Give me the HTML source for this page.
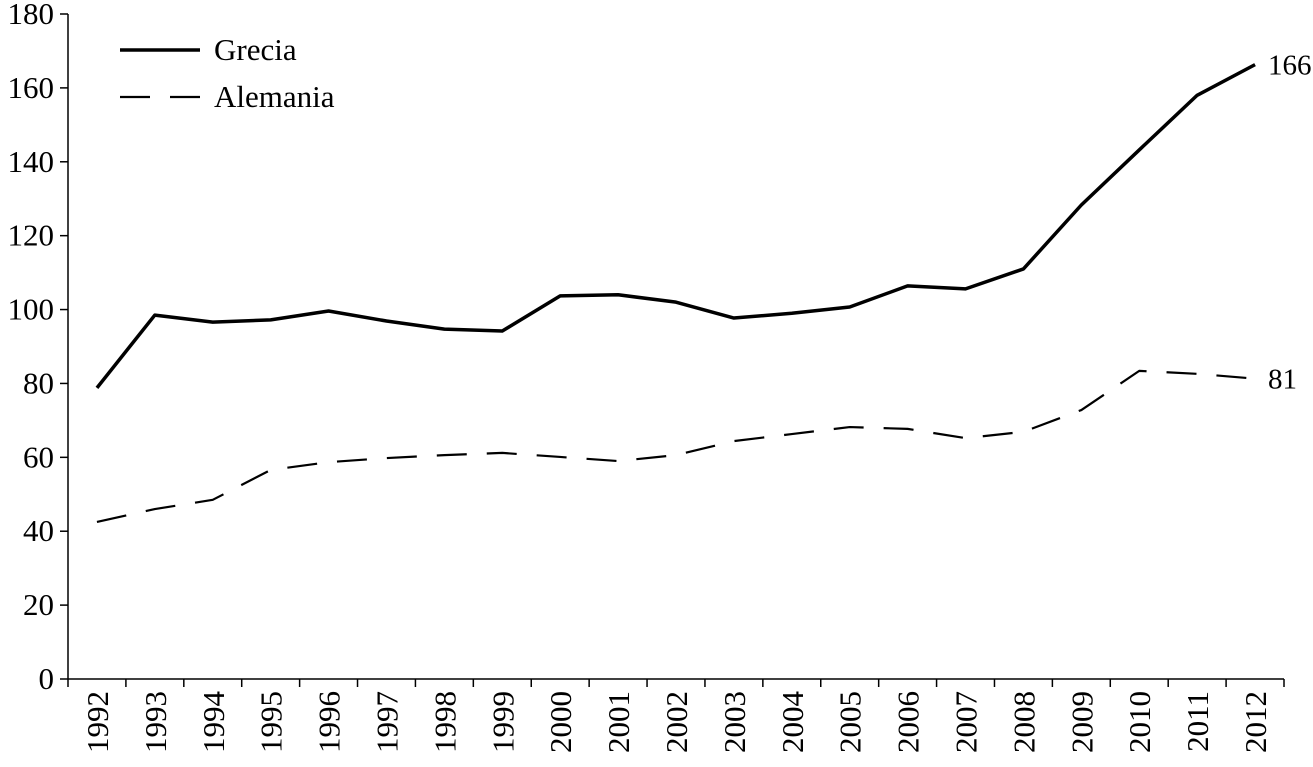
<!DOCTYPE html>
<html><head><meta charset="utf-8"><style>
html,body{margin:0;padding:0;background:#fff;}
svg{display:block;font-family:"Liberation Serif",serif;}
</style></head><body>
<svg id="chart" width="1313" height="767" viewBox="0 0 1313 767" xmlns="http://www.w3.org/2000/svg">
<g id="axes"></g><g id="series"></g>
<g>
<line x1="120" y1="50" x2="200" y2="50" stroke="#000" stroke-width="3.5"/>
<text x="214" y="60" font-size="31">Grecia</text>
<line x1="120" y1="97" x2="200" y2="97" stroke="#000" stroke-width="2.2" stroke-dasharray="30,20"/>
<text x="214" y="107" font-size="31">Alemania</text>
</g>
</svg>
<script>
const years=["1992","1993","1994","1995","1996","1997","1998","1999","2000","2001","2002","2003","2004","2005","2006","2007","2008","2009","2010","2011","2012"];
const grecia=[78.8,98.5,96.6,97.2,99.6,96.9,94.7,94.2,103.7,104,102,97.7,99,100.7,106.4,105.6,111,128.3,143.2,158,166.3];
const alemania=[42.5,46,48.5,56.6,58.7,59.8,60.6,61.2,60.1,59,60.6,64.4,66.3,68.2,67.7,65.2,66.9,72.8,83.4,82.6,81.3];
const yTicks=[0,20,40,60,80,100,120,140,160,180];
const endLabels=["166","81"];
const NS="http://www.w3.org/2000/svg";
const x0=68,x1=1284,y0=679,yTop=14;
const band=(x1-x0)/years.length;
const X=i=>x0+(i+0.5)*band;
const Y=v=>y0-(v/180)*(y0-yTop);
function mk(tag,attrs,parent){const e=document.createElementNS(NS,tag);for(const k in attrs)e.setAttribute(k,attrs[k]);parent.appendChild(e);return e;}
const axes=document.getElementById('axes'),series=document.getElementById('series');
let e=mk('line',{x1:x0,y1:yTop,x2:x0,y2:y0,stroke:'#000','stroke-width':1.5},axes);


e=mk('line',{x1:x0,y1:y0,x2:x1,y2:y0,stroke:'#000','stroke-width':1.5},axes);


yTicks.forEach(t=>{
 const y=Y(t);
 const l=mk('line',{x1:x0-8,y1:y,x2:x0,y2:y,stroke:'#000','stroke-width':1.5},axes);
 
 
 const tx=mk('text',{x:x0-14,y:y+10,'font-size':31,'text-anchor':'end'},axes);
 tx.textContent=t;
 
 
});
for(let i=0;i<=years.length;i++){
 const x=x0+i*band;
 const l=mk('line',{x1:x,y1:y0,x2:x,y2:y0+8,stroke:'#000','stroke-width':1.5},axes);
 
 
}
years.forEach((yr,i)=>{
 const x=X(i)+11,y=y0+12;
 const tx=mk('text',{x:x,y:y,'font-size':31,'text-anchor':'end',transform:`rotate(-90 ${x} ${y})`},axes);
 tx.textContent=yr;
 
 
});
function line(vals,name,attrs){
 const p=mk('polyline',Object.assign({points:vals.map((v,i)=>X(i)+','+Y(v)).join(' '),fill:'none',stroke:'#000','stroke-linejoin':'round'},attrs),series);
 
 
}
line(grecia,'grecia-line',{'stroke-width':3.5});
line(alemania,'alemania-line',{'stroke-width':2.2,'stroke-dasharray':'30,20'});
[[grecia,endLabels[0],'grecia-end-label'],[alemania,endLabels[1],'alemania-end-label']].forEach(([vals,txt,n])=>{
 const t=mk('text',{x:X(vals.length-1)+13,y:Y(vals[vals.length-1])+10,'font-size':29},series);
 t.textContent=txt;
 
 
});
</script>
</body></html>
